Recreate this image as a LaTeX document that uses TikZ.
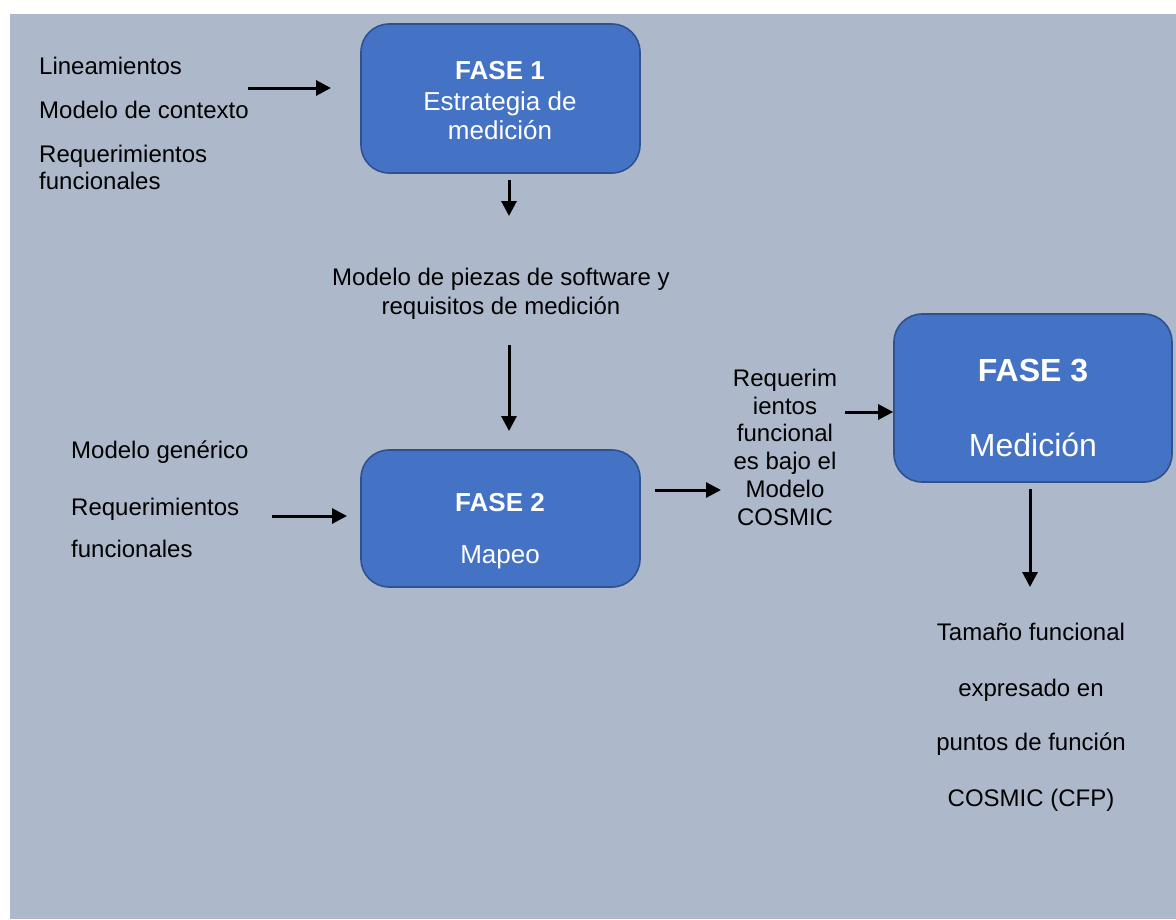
\documentclass[tikz,border=0pt]{standalone}
\usepackage{fontspec}
\setmainfont{Liberation Sans}
\usetikzlibrary{arrows.meta}
\definecolor{panel}{HTML}{ADB9CA}
\definecolor{phase}{HTML}{4472C4}
\definecolor{phaseedge}{HTML}{2F528F}
\begin{document}
\begin{tikzpicture}[x=1pt,y=-1pt,
  phasebox/.style={draw=phaseedge, line width=1.6pt, fill=phase, rounded corners=28pt, inner sep=0pt},
  txt/.style={font=\fontsize{24}{28}\selectfont, inner sep=0pt, anchor=base},
  ltxt/.style={txt, anchor=base west},
  wtxt/.style={txt, text=white, font=\fontsize{26}{30}\selectfont},
  btxt/.style={wtxt, font=\fontsize{26}{30}\selectfont\bfseries},
  bigtxt/.style={wtxt, font=\fontsize{32}{36}\selectfont},
  bigbtxt/.style={wtxt, font=\fontsize{32}{36}\selectfont\bfseries},
  flow/.style={line width=3pt, -{Triangle[length=15pt,width=15pt]}}]
\useasboundingbox (0,0) rectangle (1176,919);
\fill[panel] (10,14) rectangle (1176,919);

% phase boxes
\node[phasebox, minimum width=279pt, minimum height=149pt] (f1) at (500.5,98.5) {};
\node[phasebox, minimum width=279pt, minimum height=137pt] (f2) at (500.5,518.5) {};
\node[phasebox, minimum width=278pt, minimum height=168pt] (f3) at (1033,398) {};

% phase titles
\node[btxt] (f1a) at (500,79) {FASE 1};
\node[wtxt] (f1b) at (500,110) {Estrategia de};
\node[wtxt] (f1c) at (500,139) {medición};
\node[btxt] (f2a) at (500,511) {FASE 2};
\node[wtxt] (f2b) at (500,563) {Mapeo};
\node[bigbtxt] (f3a) at (1033,381) {FASE 3};
\node[bigtxt] (f3b) at (1033,456) {Medición};

% inputs of phase 1
\node[ltxt] (i1a) at (39,74) {Lineamientos};
\node[ltxt] (i1b) at (39,118) {Modelo de contexto};
\node[ltxt] (i1c) at (39,162) {Requerimientos};
\node[ltxt] (i1d) at (39,189) {funcionales};

% output of phase 1
\node[txt] (o1a) at (501,285) {Modelo de piezas de software y};
\node[txt] (o1b) at (501,314) {requisitos de medición};

% inputs of phase 2
\node[ltxt] (i2a) at (71,458) {Modelo genérico};
\node[ltxt] (i2b) at (71,515) {Requerimientos};
\node[ltxt] (i2c) at (71,557) {funcionales};

% output of phase 2
\node[txt] (o2a) at (785,386) {Requerim};
\node[txt] (o2b) at (785,414) {ientos};
\node[txt] (o2c) at (785,441) {funcional};
\node[txt] (o2d) at (785,469) {es bajo el};
\node[txt] (o2e) at (785,497) {Modelo};
\node[txt] (o2f) at (785,525) {COSMIC};

% output of phase 3
\node[txt] (o3a) at (1031,640) {Tamaño funcional};
\node[txt] (o3b) at (1031,696) {expresado en};
\node[txt] (o3c) at (1031,750) {puntos de función};
\node[txt] (o3d) at (1031,806) {COSMIC (CFP)};

% arrow ends
\coordinate (a1s) at (248,88);  \coordinate (a1e) at (331,88);
\coordinate (a2s) at (509,180); \coordinate (a2e) at (509,216);
\coordinate (a3s) at (509,345); \coordinate (a3e) at (509,431);
\coordinate (a4s) at (272,516); \coordinate (a4e) at (347,516);
\coordinate (a5s) at (655,490); \coordinate (a5e) at (721,490);
\coordinate (a6s) at (845,412);
\coordinate (a7s) at (1030,489); \coordinate (a7e) at (1030,587);

\draw[flow] (a1s) -- (a1e);
\draw[flow] (a2s) -- (a2e);
\draw[flow] (a3s) -- (a3e);
\draw[flow] (a4s) -- (a4e);
\draw[flow] (a5s) -- (a5e);
\draw[flow] (a6s) -- (f3.west |- a6s);
\draw[flow] (a7s) -- (a7e);
\end{tikzpicture}
\end{document}
